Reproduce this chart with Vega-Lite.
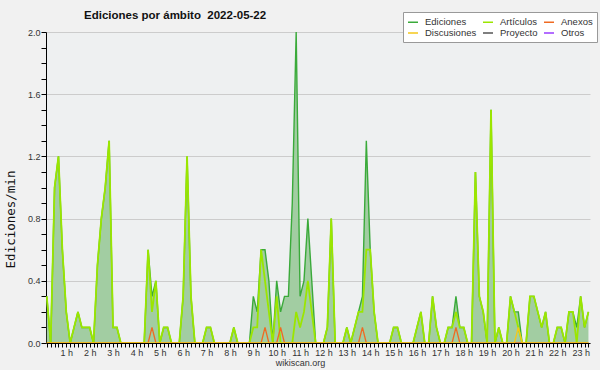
{
  "$schema": "https://vega.github.io/schema/vega-lite/v6.json",
  "width": 544,
  "height": 311,
  "autosize": "none",
  "padding": {"left": 46, "top": 32, "right": 10, "bottom": 27},
  "background": "#f1f1f1",
  "config": {
    "view": {"fill": "#eef0f1", "stroke": null},
    "font": "Liberation Sans"
  },
  "title": {
    "text": "Ediciones por ámbito\u00a0\u00a02022-05-22",
    "anchor": "start",
    "frame": "group",
    "dx": 38,
    "offset": -19,
    "baseline": "alphabetic",
    "font": "Liberation Sans",
    "fontSize": 11.5,
    "fontWeight": "bold",
    "color": "#111111"
  },
  "data": {
    "values": [
      {"min":10,"Ediciones":0.3,"Artículos":0.3,"Anexos":0,"Discusiones":0},
      {"min":20,"Ediciones":0,"Artículos":0,"Anexos":0,"Discusiones":0},
      {"min":30,"Ediciones":1.0,"Artículos":1.0,"Anexos":0,"Discusiones":0},
      {"min":40,"Ediciones":1.2,"Artículos":1.2,"Anexos":0,"Discusiones":0},
      {"min":50,"Ediciones":0.6,"Artículos":0.6,"Anexos":0,"Discusiones":0},
      {"min":60,"Ediciones":0.2,"Artículos":0.2,"Anexos":0,"Discusiones":0},
      {"min":70,"Ediciones":0,"Artículos":0,"Anexos":0,"Discusiones":0},
      {"min":80,"Ediciones":0.1,"Artículos":0.1,"Anexos":0,"Discusiones":0},
      {"min":90,"Ediciones":0.2,"Artículos":0.2,"Anexos":0,"Discusiones":0},
      {"min":100,"Ediciones":0.1,"Artículos":0.1,"Anexos":0,"Discusiones":0},
      {"min":110,"Ediciones":0.1,"Artículos":0.1,"Anexos":0,"Discusiones":0},
      {"min":120,"Ediciones":0.1,"Artículos":0.1,"Anexos":0,"Discusiones":0},
      {"min":130,"Ediciones":0,"Artículos":0,"Anexos":0,"Discusiones":0},
      {"min":140,"Ediciones":0.5,"Artículos":0.5,"Anexos":0,"Discusiones":0},
      {"min":150,"Ediciones":0.8,"Artículos":0.8,"Anexos":0,"Discusiones":0},
      {"min":160,"Ediciones":1.0,"Artículos":1.0,"Anexos":0,"Discusiones":0},
      {"min":170,"Ediciones":1.3,"Artículos":1.3,"Anexos":0,"Discusiones":0},
      {"min":180,"Ediciones":0.1,"Artículos":0.1,"Anexos":0,"Discusiones":0},
      {"min":190,"Ediciones":0.1,"Artículos":0.1,"Anexos":0,"Discusiones":0},
      {"min":200,"Ediciones":0,"Artículos":0,"Anexos":0,"Discusiones":0},
      {"min":210,"Ediciones":0,"Artículos":0,"Anexos":0,"Discusiones":0},
      {"min":220,"Ediciones":0,"Artículos":0,"Anexos":0,"Discusiones":0},
      {"min":230,"Ediciones":0,"Artículos":0,"Anexos":0,"Discusiones":0},
      {"min":240,"Ediciones":0,"Artículos":0,"Anexos":0,"Discusiones":0},
      {"min":250,"Ediciones":0,"Artículos":0,"Anexos":0,"Discusiones":0},
      {"min":260,"Ediciones":0,"Artículos":0,"Anexos":0,"Discusiones":0},
      {"min":270,"Ediciones":0.6,"Artículos":0.6,"Anexos":0,"Discusiones":0},
      {"min":280,"Ediciones":0.3,"Artículos":0.2,"Anexos":0.1,"Discusiones":0},
      {"min":290,"Ediciones":0.4,"Artículos":0.4,"Anexos":0,"Discusiones":0},
      {"min":300,"Ediciones":0,"Artículos":0,"Anexos":0,"Discusiones":0},
      {"min":310,"Ediciones":0.1,"Artículos":0.1,"Anexos":0,"Discusiones":0},
      {"min":320,"Ediciones":0.1,"Artículos":0.1,"Anexos":0,"Discusiones":0},
      {"min":330,"Ediciones":0,"Artículos":0,"Anexos":0,"Discusiones":0},
      {"min":340,"Ediciones":0,"Artículos":0,"Anexos":0,"Discusiones":0},
      {"min":350,"Ediciones":0,"Artículos":0,"Anexos":0,"Discusiones":0},
      {"min":360,"Ediciones":0.3,"Artículos":0.3,"Anexos":0,"Discusiones":0},
      {"min":370,"Ediciones":1.2,"Artículos":1.2,"Anexos":0,"Discusiones":0},
      {"min":380,"Ediciones":0.3,"Artículos":0.3,"Anexos":0,"Discusiones":0},
      {"min":390,"Ediciones":0,"Artículos":0,"Anexos":0,"Discusiones":0},
      {"min":400,"Ediciones":0,"Artículos":0,"Anexos":0,"Discusiones":0},
      {"min":410,"Ediciones":0,"Artículos":0,"Anexos":0,"Discusiones":0},
      {"min":420,"Ediciones":0.1,"Artículos":0.1,"Anexos":0,"Discusiones":0},
      {"min":430,"Ediciones":0.1,"Artículos":0.1,"Anexos":0,"Discusiones":0},
      {"min":440,"Ediciones":0,"Artículos":0,"Anexos":0,"Discusiones":0},
      {"min":450,"Ediciones":0,"Artículos":0,"Anexos":0,"Discusiones":0},
      {"min":460,"Ediciones":0,"Artículos":0,"Anexos":0,"Discusiones":0},
      {"min":470,"Ediciones":0,"Artículos":0,"Anexos":0,"Discusiones":0},
      {"min":480,"Ediciones":0,"Artículos":0,"Anexos":0,"Discusiones":0},
      {"min":490,"Ediciones":0.1,"Artículos":0.1,"Anexos":0,"Discusiones":0},
      {"min":500,"Ediciones":0,"Artículos":0,"Anexos":0,"Discusiones":0},
      {"min":510,"Ediciones":0,"Artículos":0,"Anexos":0,"Discusiones":0},
      {"min":520,"Ediciones":0,"Artículos":0,"Anexos":0,"Discusiones":0},
      {"min":530,"Ediciones":0,"Artículos":0,"Anexos":0,"Discusiones":0},
      {"min":540,"Ediciones":0.3,"Artículos":0.1,"Anexos":0,"Discusiones":0},
      {"min":550,"Ediciones":0.2,"Artículos":0.1,"Anexos":0,"Discusiones":0},
      {"min":560,"Ediciones":0.6,"Artículos":0.6,"Anexos":0,"Discusiones":0},
      {"min":570,"Ediciones":0.6,"Artículos":0.4,"Anexos":0.1,"Discusiones":0},
      {"min":580,"Ediciones":0.4,"Artículos":0.2,"Anexos":0,"Discusiones":0},
      {"min":590,"Ediciones":0,"Artículos":0,"Anexos":0,"Discusiones":0},
      {"min":600,"Ediciones":0.4,"Artículos":0.3,"Anexos":0,"Discusiones":0},
      {"min":610,"Ediciones":0.2,"Artículos":0,"Anexos":0.1,"Discusiones":0},
      {"min":620,"Ediciones":0.3,"Artículos":0,"Anexos":0,"Discusiones":0},
      {"min":630,"Ediciones":0.3,"Artículos":0,"Anexos":0,"Discusiones":0},
      {"min":640,"Ediciones":0.9,"Artículos":0,"Anexos":0,"Discusiones":0},
      {"min":650,"Ediciones":2.0,"Artículos":0.2,"Anexos":0,"Discusiones":0},
      {"min":660,"Ediciones":0.3,"Artículos":0.1,"Anexos":0,"Discusiones":0},
      {"min":670,"Ediciones":0.4,"Artículos":0.2,"Anexos":0,"Discusiones":0},
      {"min":680,"Ediciones":0.8,"Artículos":0.4,"Anexos":0,"Discusiones":0},
      {"min":690,"Ediciones":0.4,"Artículos":0.2,"Anexos":0,"Discusiones":0},
      {"min":700,"Ediciones":0,"Artículos":0,"Anexos":0,"Discusiones":0},
      {"min":710,"Ediciones":0,"Artículos":0,"Anexos":0,"Discusiones":0},
      {"min":720,"Ediciones":0,"Artículos":0,"Anexos":0,"Discusiones":0},
      {"min":730,"Ediciones":0.1,"Artículos":0.1,"Anexos":0,"Discusiones":0},
      {"min":740,"Ediciones":0.8,"Artículos":0.8,"Anexos":0,"Discusiones":0},
      {"min":750,"Ediciones":0,"Artículos":0,"Anexos":0,"Discusiones":0},
      {"min":760,"Ediciones":0,"Artículos":0,"Anexos":0,"Discusiones":0},
      {"min":770,"Ediciones":0,"Artículos":0,"Anexos":0,"Discusiones":0},
      {"min":780,"Ediciones":0.1,"Artículos":0.1,"Anexos":0,"Discusiones":0},
      {"min":790,"Ediciones":0,"Artículos":0,"Anexos":0,"Discusiones":0},
      {"min":800,"Ediciones":0.1,"Artículos":0.1,"Anexos":0,"Discusiones":0},
      {"min":810,"Ediciones":0.2,"Artículos":0.2,"Anexos":0,"Discusiones":0},
      {"min":820,"Ediciones":0.3,"Artículos":0.2,"Anexos":0.1,"Discusiones":0},
      {"min":830,"Ediciones":1.3,"Artículos":0.6,"Anexos":0,"Discusiones":0},
      {"min":840,"Ediciones":0.6,"Artículos":0.6,"Anexos":0,"Discusiones":0},
      {"min":850,"Ediciones":0.2,"Artículos":0.2,"Anexos":0,"Discusiones":0},
      {"min":860,"Ediciones":0,"Artículos":0,"Anexos":0,"Discusiones":0},
      {"min":870,"Ediciones":0,"Artículos":0,"Anexos":0,"Discusiones":0},
      {"min":880,"Ediciones":0,"Artículos":0,"Anexos":0,"Discusiones":0},
      {"min":890,"Ediciones":0,"Artículos":0,"Anexos":0,"Discusiones":0},
      {"min":900,"Ediciones":0.1,"Artículos":0.1,"Anexos":0,"Discusiones":0},
      {"min":910,"Ediciones":0.1,"Artículos":0.1,"Anexos":0,"Discusiones":0},
      {"min":920,"Ediciones":0,"Artículos":0,"Anexos":0,"Discusiones":0},
      {"min":930,"Ediciones":0,"Artículos":0,"Anexos":0,"Discusiones":0},
      {"min":940,"Ediciones":0,"Artículos":0,"Anexos":0,"Discusiones":0},
      {"min":950,"Ediciones":0,"Artículos":0,"Anexos":0,"Discusiones":0},
      {"min":960,"Ediciones":0.1,"Artículos":0.1,"Anexos":0,"Discusiones":0},
      {"min":970,"Ediciones":0.2,"Artículos":0.2,"Anexos":0,"Discusiones":0},
      {"min":980,"Ediciones":0,"Artículos":0,"Anexos":0,"Discusiones":0},
      {"min":990,"Ediciones":0,"Artículos":0,"Anexos":0,"Discusiones":0},
      {"min":1000,"Ediciones":0.3,"Artículos":0.3,"Anexos":0,"Discusiones":0},
      {"min":1010,"Ediciones":0.1,"Artículos":0.1,"Anexos":0,"Discusiones":0},
      {"min":1020,"Ediciones":0,"Artículos":0,"Anexos":0,"Discusiones":0},
      {"min":1030,"Ediciones":0,"Artículos":0,"Anexos":0,"Discusiones":0},
      {"min":1040,"Ediciones":0.1,"Artículos":0.1,"Anexos":0,"Discusiones":0},
      {"min":1050,"Ediciones":0.1,"Artículos":0.1,"Anexos":0,"Discusiones":0},
      {"min":1060,"Ediciones":0.3,"Artículos":0.2,"Anexos":0.1,"Discusiones":0},
      {"min":1070,"Ediciones":0.1,"Artículos":0.1,"Anexos":0,"Discusiones":0},
      {"min":1080,"Ediciones":0.1,"Artículos":0.1,"Anexos":0,"Discusiones":0},
      {"min":1090,"Ediciones":0,"Artículos":0,"Anexos":0,"Discusiones":0},
      {"min":1100,"Ediciones":0,"Artículos":0,"Anexos":0,"Discusiones":0},
      {"min":1110,"Ediciones":1.1,"Artículos":1.1,"Anexos":0,"Discusiones":0},
      {"min":1120,"Ediciones":0.3,"Artículos":0.3,"Anexos":0,"Discusiones":0},
      {"min":1130,"Ediciones":0.2,"Artículos":0.2,"Anexos":0,"Discusiones":0},
      {"min":1140,"Ediciones":0,"Artículos":0,"Anexos":0,"Discusiones":0},
      {"min":1150,"Ediciones":1.5,"Artículos":1.5,"Anexos":0,"Discusiones":0},
      {"min":1160,"Ediciones":0,"Artículos":0,"Anexos":0,"Discusiones":0},
      {"min":1170,"Ediciones":0.1,"Artículos":0.1,"Anexos":0,"Discusiones":0},
      {"min":1180,"Ediciones":0,"Artículos":0,"Anexos":0,"Discusiones":0},
      {"min":1190,"Ediciones":0,"Artículos":0,"Anexos":0,"Discusiones":0},
      {"min":1200,"Ediciones":0.3,"Artículos":0.3,"Anexos":0,"Discusiones":0},
      {"min":1210,"Ediciones":0.2,"Artículos":0.2,"Anexos":0,"Discusiones":0},
      {"min":1220,"Ediciones":0.2,"Artículos":0.1,"Anexos":0,"Discusiones":0.1},
      {"min":1230,"Ediciones":0,"Artículos":0,"Anexos":0,"Discusiones":0},
      {"min":1240,"Ediciones":0,"Artículos":0,"Anexos":0,"Discusiones":0},
      {"min":1250,"Ediciones":0.3,"Artículos":0.3,"Anexos":0,"Discusiones":0},
      {"min":1260,"Ediciones":0.3,"Artículos":0.3,"Anexos":0,"Discusiones":0},
      {"min":1270,"Ediciones":0.2,"Artículos":0.2,"Anexos":0,"Discusiones":0},
      {"min":1280,"Ediciones":0.1,"Artículos":0.1,"Anexos":0,"Discusiones":0},
      {"min":1290,"Ediciones":0.2,"Artículos":0.2,"Anexos":0,"Discusiones":0},
      {"min":1300,"Ediciones":0,"Artículos":0,"Anexos":0,"Discusiones":0},
      {"min":1310,"Ediciones":0,"Artículos":0,"Anexos":0,"Discusiones":0},
      {"min":1320,"Ediciones":0.1,"Artículos":0.1,"Anexos":0,"Discusiones":0},
      {"min":1330,"Ediciones":0.1,"Artículos":0.1,"Anexos":0,"Discusiones":0},
      {"min":1340,"Ediciones":0,"Artículos":0,"Anexos":0,"Discusiones":0},
      {"min":1350,"Ediciones":0.2,"Artículos":0.2,"Anexos":0,"Discusiones":0},
      {"min":1360,"Ediciones":0.2,"Artículos":0.2,"Anexos":0,"Discusiones":0},
      {"min":1370,"Ediciones":0.1,"Artículos":0,"Anexos":0,"Discusiones":0},
      {"min":1380,"Ediciones":0.3,"Artículos":0.3,"Anexos":0,"Discusiones":0},
      {"min":1390,"Ediciones":0.1,"Artículos":0.1,"Anexos":0,"Discusiones":0},
      {"min":1400,"Ediciones":0.2,"Artículos":0.2,"Anexos":0,"Discusiones":0}
    ]
  },
  "transform": [
    {"fold": ["Ediciones", "Artículos", "Anexos", "Discusiones"], "as": ["serie", "valor"]}
  ],
  "encoding": {
    "x": {
      "field": "min",
      "type": "quantitative",
      "scale": {"domain": [8, 1404], "nice": false, "zero": false},
      "axis": {
        "title": "wikiscan.org",
        "titleX": 254,
        "titleY": 22,
        "titleAlign": "center",
        "titleAnchor": null,
        "titleBaseline": "alphabetic",
        "titleFont": "Liberation Sans",
        "titleFontSize": 9,
        "titleFontWeight": "normal",
        "titleColor": "#333333",
        "zindex": 1,
        "domainColor": "#000000",
        "domainWidth": 1,
        "tickColor": "#000000",
        "tickSize": 4,
        "tickWidth": 1,
        "grid": false,
        "values": [10,20,30,40,50,60,70,80,90,100,110,120,130,140,150,160,170,180,190,200,210,220,230,240,250,260,270,280,290,300,310,320,330,340,350,360,370,380,390,400,410,420,430,440,450,460,470,480,490,500,510,520,530,540,550,560,570,580,590,600,610,620,630,640,650,660,670,680,690,700,710,720,730,740,750,760,770,780,790,800,810,820,830,840,850,860,870,880,890,900,910,920,930,940,950,960,970,980,990,1000,1010,1020,1030,1040,1050,1060,1070,1080,1090,1100,1110,1120,1130,1140,1150,1160,1170,1180,1190,1200,1210,1220,1230,1240,1250,1260,1270,1280,1290,1300,1310,1320,1330,1340,1350,1360,1370,1380,1390,1400],
        "labelExpr": "datum.value % 60 === 0 ? (datum.value / 60) + ' h' : ''",
        "labelOverlap": false,
        "labelFlush": false,
        "labelBound": false,
        "labelFont": "Liberation Sans",
        "labelFontSize": 9,
        "labelColor": "#333333",
        "labelPadding": 1
      }
    },
    "y": {
      "field": "valor",
      "type": "quantitative",
      "scale": {"domain": [0, 2], "nice": false},
      "axis": {
        "title": "Ediciones/min",
        "titleFont": "DejaVu Sans Mono",
        "titleFontSize": 12.5,
        "titleFontWeight": "normal",
        "titleColor": "#111111",
        "titleX": -36,
        "titleY": 187,
        "titleAngle": -90,
        "titleAlign": "center",
        "titleBaseline": "middle",
        "titleAnchor": null,
        "zindex": 0,
        "domainColor": "#000000",
        "tickColor": "#000000",
        "tickSize": 5,
        "values": [0,0.1,0.2,0.3,0.4,0.5,0.6,0.7,0.8,0.9,1,1.1,1.2,1.3,1.4,1.5,1.6,1.7,1.8,1.9,2],
        "labelExpr": "round(datum.value * 10) % 4 === 0 ? format(datum.value, '.1f') : ''",
        "labelFont": "Liberation Sans",
        "labelFontSize": 9,
        "labelColor": "#333333",
        "labelPadding": 1,
        "labelOverlap": false,
        "grid": true,
        "gridColor": "#cccccc",
        "gridWidth": 1,
        "gridOpacity": {"condition": {"test": "round(datum.value * 10) % 4 === 0", "value": 1}, "value": 0}
      }
    }
  },
  "layer": [
    {
      "transform": [{"filter": "datum.serie === 'Ediciones'"}],
      "mark": {"type": "area", "color": "#a2cda2", "opacity": 1}
    },
    {
      "transform": [{"filter": "datum.serie === 'Ediciones'"}],
      "mark": {"type": "line", "strokeWidth": 1.4},
      "encoding": {"color": {"field": "serie", "type": "nominal"}}
    },
    {
      "transform": [{"filter": "datum.serie === 'Artículos'"}],
      "mark": {"type": "line", "strokeWidth": 1.8},
      "encoding": {"color": {"field": "serie", "type": "nominal"}}
    },
    {
      "transform": [{"filter": "datum.serie === 'Anexos'"}],
      "mark": {"type": "line", "strokeWidth": 1.3},
      "encoding": {"color": {"field": "serie", "type": "nominal"}}
    },
    {
      "transform": [{"filter": "datum.serie === 'Discusiones'"}],
      "mark": {"type": "line", "strokeWidth": 1.3},
      "encoding": {
        "color": {
          "field": "serie",
          "type": "nominal",
          "scale": {
            "domain": ["Ediciones", "Artículos", "Anexos", "Discusiones", "Proyecto", "Otros"],
            "range": ["#3aaa3a", "#9be600", "#ef6a22", "#f5c71a", "#555555", "#9a3cff"]
          },
          "legend": {
            "title": null,
            "orient": "none",
            "legendX": 357,
            "legendY": -20,
            "columns": 3,
            "direction": "horizontal",
            "gridAlign": "each",
            "symbolType": "stroke",
            "symbolSize": 100,
            "symbolStrokeWidth": 1.5,
            "labelFont": "Liberation Sans",
            "labelFontSize": 9.5,
            "labelColor": "#333333",
            "labelOffset": 6,
            "columnPadding": 3,
            "rowPadding": -3,
            "padding": 4,
            "fillColor": "#ffffff",
            "strokeColor": "#999999"
          }
        }
      }
    },
    {
      "data": {"values": [{"nota": "CC BY-SA 3.0"}]},
      "transform": [],
      "mark": {"type": "text", "align": "right", "baseline": "alphabetic", "dy": 21, "dx": 1, "fontSize": 7, "font": "Liberation Sans", "color": "#333333"},
      "encoding": {
        "x": {"datum": 1404},
        "y": {"datum": 0},
        "text": {"field": "nota"}
      }
    }
  ]
}
